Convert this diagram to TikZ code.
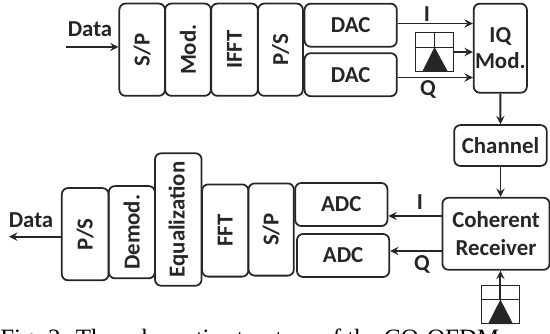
\documentclass[tikz,border=0pt]{standalone}
\usepackage{fontspec}
\setsansfont{Carlito}
\setmainfont{Liberation Serif}
\usepackage{tikz}

\tikzset{
    blk/.style={draw, line width=1pt, black!85, text=black!85, rounded corners=3.5pt, inner sep=0pt, font=\sffamily\bfseries\fontsize{13}{15}\selectfont, align=center},
    lbl/.style={inner sep=0pt, text=black!85, font=\sffamily\bfseries\fontsize{13}{15}\selectfont},
    lo/.style={draw, line width=0.5pt, black!85, inner sep=0pt, minimum width=22pt, minimum height=22pt},
    conn/.style={line width=1.1pt, black!85, ->}
}

\begin{document}
\begin{tikzpicture}[x=0.02cm, y=-0.02cm, >=stealth]
    \clip (0,0) rectangle (550,334);
    % transmitter
    \node[blk, minimum width=26pt, minimum height=52.5pt] (sp1) at (142.2,49.7) {\rotatebox{90}{S/P}};
    \node[blk, minimum width=26pt, minimum height=52.5pt] (mod) at (188,49.7) {\rotatebox{90}{Mod.}};
    \node[blk, minimum width=26.5pt, minimum height=52.5pt] (ifft) at (234.5,49.7) {\rotatebox{90}{IFFT}};
    \node[blk, minimum width=25.5pt, minimum height=52.5pt] (ps1) at (280.5,49.7) {\rotatebox{90}{P/S}};
    \node[blk, minimum width=52.5pt, minimum height=24.5pt] (dac1) at (350.7,25.2) {DAC};
    \node[blk, minimum width=52.5pt, minimum height=24.5pt] (dac2) at (350.7,74.7) {DAC};
    \node[blk, minimum width=30.3pt, minimum height=50.7pt] (iqmod) at (500.3,48.2) {IQ\\Mod.};
    \node[blk, minimum width=52.7pt, minimum height=23.2pt] (chan) at (500.5,145.5) {Channel};
    % receiver
    \node[blk, minimum width=61pt, minimum height=41pt, font=\sffamily\bfseries\fontsize{13}{16}\selectfont] (rx) at (496,233.8) {Coherent\\Receiver};
    \node[blk, minimum width=52.5pt, minimum height=24.5pt] (adc1) at (341.3,204.5) {ADC};
    \node[blk, minimum width=52.5pt, minimum height=24.5pt] (adc2) at (343.1,255.5) {ADC};
    \node[blk, minimum width=25.8pt, minimum height=52.5pt] (sp2) at (271.2,229.5) {\rotatebox{90}{S/P}};
    \node[blk, minimum width=26.3pt, minimum height=52.5pt] (fft) at (225.2,230.5) {\rotatebox{90}{FFT}};
    \node[blk, minimum width=26.5pt, minimum height=75.4pt] (eq) at (178.3,219.5) {\rotatebox{90}{Equalization}};
    \node[blk, minimum width=26.3pt, minimum height=52.5pt] (demod) at (131.8,232.2) {\rotatebox{90}{Demod.}};
    \node[blk, minimum width=26.6pt, minimum height=52.5pt] (ps2) at (85.2,234.2) {\rotatebox{90}{P/S}};
    % laser sources
    \node[lo] (lo1) at (434.5,51.7) {};
    \draw[line width=0.5pt, black!85] (lo1.west |- 0,47) -- (lo1.east |- 0,47);
    \draw[line width=0.5pt, black!85] (lo1.north) -- (434.5,47);
    \fill[black!85] (434.5,47) -- (422.5,71) -- (447.5,71) -- cycle;
    \node[lo] (lo2) at (500.4,304.5) {};
    \draw[line width=0.5pt, black!85] (lo2.west |- 0,299.5) -- (lo2.east |- 0,299.5);
    \fill[black!85] (500.4,299.5) -- (488,324) -- (513,324) -- cycle;
    % free ends
    \coordinate (datain) at (66,47);
    \coordinate (dataout) at (9,236.7);
    \coordinate (lo2top) at (500.4,299.5);
    % arrows
    \draw[conn] (datain) -- (datain -| sp1.west);
    \draw[conn] (dac1.east |- 0,23.5) -- (iqmod.west |- 0,23.5);
    \draw[conn] (lo1.east |- 0,52) -- (iqmod.west |- 0,52);
    \draw[conn] (dac2.east |- 0,77.5) -- (iqmod.west |- 0,77.5);
    \draw[conn] (iqmod.south) -- (chan.north);
    \draw[conn] (chan.south) -- (chan.south |- rx.north);
    \draw[conn] (rx.west |- 0,216) -- (adc1.east |- 0,216);
    \draw[conn] (rx.west |- 0,251) -- (adc2.east |- 0,251);
    \draw[conn] (lo2top) -- (lo2top |- rx.south);
    \draw[conn] (ps2.west |- dataout) -- (dataout);
    % labels
    \node[lbl] (datatx) at (90,29) {Data};
    \node[lbl] (datarx) at (31,220) {Data};
    \node[lbl] (itx) at (427,14) {I};
    \node[lbl] (qtx) at (428,89) {Q};
    \node[lbl] (irx) at (420,202) {I};
    \node[lbl] (qrx) at (422,264) {Q};
    \node[anchor=base west, inner sep=0pt, font=\fontsize{14.2}{16}\selectfont] (caption) at (0,346.5) {Fig. 2: The schematic structure of the CO-OFDM};
\end{tikzpicture}
\end{document}
